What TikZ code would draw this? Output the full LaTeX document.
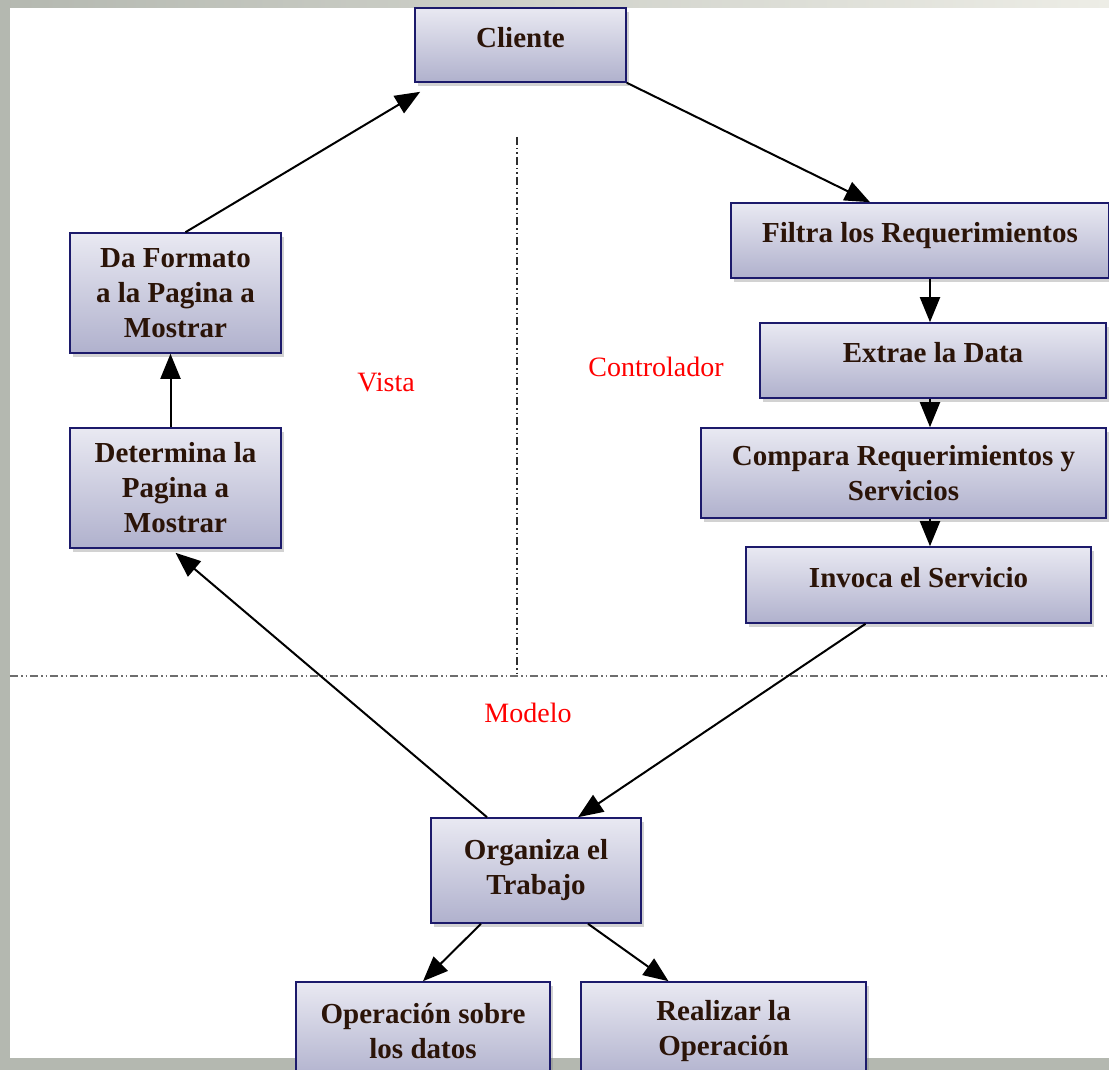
\documentclass[tikz,border=0pt]{standalone}
\usepackage{fontspec}
\setmainfont{Liberation Serif}
\usetikzlibrary{arrows.meta}
\usetikzlibrary{shadows}

\definecolor{borde}{HTML}{1C1A6B}
\definecolor{letra}{HTML}{2B1408}
\definecolor{cajaarriba}{HTML}{E9E9F2}
\definecolor{cajaabajo}{HTML}{B0B1CD}
\definecolor{marco}{HTML}{B4B8B0}
\definecolor{marcoclaro}{HTML}{EDEDE6}
\definecolor{linea}{HTML}{2E2E2E}

\tikzset{
  caja/.style={draw=borde, line width=1.6pt, top color=cajaarriba, bottom color=cajaabajo,
    drop shadow={shadow xshift=3pt, shadow yshift=-4pt, opacity=0.35},
    text=letra, align=center, inner sep=0pt,
    font=\fontsize{29}{35}\selectfont\bfseries},
  una/.style={text depth=16pt},
  etiqueta/.style={text=red, font=\fontsize{28}{34}\selectfont},
  flecha/.style={-{Triangle[length=25pt,width=20pt]}, line width=2pt, black},
  division/.style={linea, line width=1.8pt, dash pattern=on 8pt off 3pt on 1.5pt off 3pt on 1.5pt off 3pt}
}

\begin{document}
\begin{tikzpicture}[x=1pt,y=-1pt]
    \useasboundingbox (0,0) rectangle (1109,1070);
    % fondo
    \fill[marco] (0,0) rectangle (1109,1070);
    \shade[left color=marco, right color=marcoclaro] (0,0) rectangle (1109,8);
    \fill[white] (10,8) rectangle (1109,1058);

    % lineas divisorias
    \draw[division] (517,137) -- (517,676);
    \draw[division, linea!70] (10,676) -- (1109,676);

    % cajas
    \node[caja, una, minimum width=211pt, minimum height=74pt] (cliente) at (520.5,45) {Cliente};
    \node[caja, una, minimum width=378pt, minimum height=75pt] (filtra) at (920,240.5) {Filtra los Requerimientos};
    \node[caja, una, minimum width=346pt, minimum height=75pt] (extrae) at (933,360.5) {Extrae la Data};
    \node[caja, minimum width=405pt, minimum height=90pt] (compara) at (903.5,473) {Compara Requerimientos y\\Servicios};
    \node[caja, una, minimum width=345pt, minimum height=76pt] (invoca) at (918.5,585) {Invoca el Servicio};
    \node[caja, minimum width=211pt, minimum height=120pt] (formato) at (175.5,293) {Da Formato\\a la Pagina a\\Mostrar};
    \node[caja, minimum width=211pt, minimum height=120pt] (determina) at (175.5,488) {Determina la\\Pagina a\\Mostrar};
    \node[caja, minimum width=210pt, minimum height=105pt] (organiza) at (536,870.5) {Organiza el\\Trabajo};
    \node[caja, minimum width=254pt, minimum height=98pt] (operacion) at (423,1031) {Operación sobre\\los datos};
    \node[caja, minimum width=285pt, minimum height=98pt] (realizar) at (723.5,1031) {Realizar la\\Operación};

    % etiquetas
    \node[etiqueta] (vista) at (386,382) {Vista};
    \node[etiqueta] (controlador) at (656,367) {Controlador};
    \node[etiqueta] (modelo) at (528,713) {Modelo};

    % flechas
    \draw[flecha] ([xshift=10pt]formato.north) -- ([xshift=6pt,yshift=-9pt]cliente.south west);
    \draw[flecha] (cliente.south east) -- ([xshift=-50pt]filtra.north);
    \draw[flecha] (filtra.south -| 930,0) -- (extrae.north -| 930,0);
    \draw[flecha] (extrae.south -| 930,0) -- (compara.north -| 930,0);
    \draw[flecha] (compara.south -| 930,0) -- (invoca.north -| 930,0);
    \draw[flecha] ([xshift=-53pt]invoca.south) -- ([xshift=42pt]organiza.north);
    \draw[flecha] ([xshift=-49pt]organiza.north) -- ([yshift=-4pt]determina.south);
    \draw[flecha] ([xshift=-5pt]determina.north) -- ([xshift=-5pt]formato.south);
    \draw[flecha] ([xshift=-55pt]organiza.south) -- (operacion.north);
    \draw[flecha] ([xshift=52pt]organiza.south) -- ([xshift=-55pt]realizar.north);
\end{tikzpicture}
\end{document}
